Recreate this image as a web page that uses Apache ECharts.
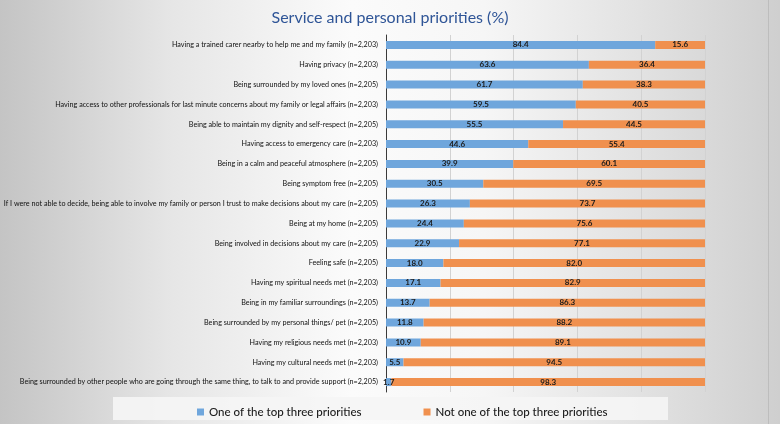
<!DOCTYPE html>
<html>
<head>
<meta charset="utf-8">
<script src="https://cdn.jsdelivr.net/npm/echarts@6/dist/echarts.min.js"></script>
<style>
  html, body { margin: 0; padding: 0; }
  body {
    position: relative;
    width: 780px;
    height: 424px;
    background: linear-gradient(to right, #c4c4c4 0%, #e6e6e6 22%, #fbfbfb 45%, #f6f6f6 62%, #e2e2e2 82%, #cfcfcf 100%);
  }
  #chart { width: 780px; height: 424px; }
  .edge { position: absolute; left: 768px; top: 0; width: 1px; height: 424px; background: #bdbdbd; }
</style>
</head>
<body>
<div id="chart"></div>
<div class="edge"></div>
<script>
const categories = [
  "Having a trained carer nearby to help me and my family (n=2,203)",
  "Having privacy (n=2,203)",
  "Being surrounded by my loved ones (n=2,205)",
  "Having access to other professionals for last minute concerns about my family or legal affairs (n=2,203)",
  "Being able to maintain my dignity and self-respect (n=2,205)",
  "Having access to emergency care (n=2,203)",
  "Being in a calm and peaceful atmosphere (n=2,205)",
  "Being symptom free (n=2,205)",
  "If I were not able to decide, being able to involve my family or person I trust to make decisions about my care (n=2,205)",
  "Being at my home (n=2,205)",
  "Being involved in decisions about my care (n=2,205)",
  "Feeling safe (n=2,205)",
  "Having my spiritual needs met (n=2,203)",
  "Being in my familiar surroundings (n=2,205)",
  "Being surrounded by my personal things/ pet (n=2,205)",
  "Having my religious needs met (n=2,203)",
  "Having my cultural needs met (n=2,203)",
  "Being surrounded by other people who are going through the same thing, to talk to and provide support (n=2,205)"
];

const topThree = [84.4, 63.6, 61.7, 59.5, 55.5, 44.6, 39.9, 30.5, 26.3, 24.4, 22.9, 18.0, 17.1, 13.7, 11.8, 10.9, 5.5, 1.7];
const notTopThree = [15.6, 36.4, 38.3, 40.5, 44.5, 55.4, 60.1, 69.5, 73.7, 75.6, 77.1, 82.0, 82.9, 86.3, 88.2, 89.1, 94.5, 98.3];

const seriesNames = ["One of the top three priorities", "Not one of the top three priorities"];

const myChart = echarts.init(document.getElementById("chart"), null, { renderer: "canvas" });

const valueLabel = {
  show: true,
  position: "inside",
  color: "#1b1b1b",
  fontSize: 8,
  fontWeight: "bold",
  fontFamily: "Lato",
  formatter: (p) => p.value.toFixed(1)
};

const option = {
  backgroundColor: "transparent",
  animation: false,
  title: {
    text: "Service and personal priorities (%)",
    left: "center",
    top: 5,
    textStyle: {
      color: "#2f5597",
      fontSize: 16,
      fontWeight: "normal",
      fontFamily: "Lato"
    }
  },
  graphic: [
    {
      type: "rect",
      left: 113,
      top: 397,
      shape: { width: 555, height: 23 },
      style: { fill: "rgba(245,245,245,0.9)" },
      z: 0
    }
  ],
  legend: {
    left: 192,
    top: 401,
    itemGap: 62,
    itemWidth: 7,
    itemHeight: 7,
    icon: "rect",
    textStyle: { fontSize: 11.5, color: "#1b1b1b", fontFamily: "Lato", fontWeight: 500 },
    data: seriesNames
  },
  grid: {
    left: 386,
    right: 75,
    top: 35,
    bottom: 32,
    containLabel: false
  },
  xAxis: {
    type: "value",
    min: 0,
    max: 100,
    interval: 20,
    axisLabel: { show: false },
    axisLine: { show: false },
    axisTick: { show: false },
    splitLine: { lineStyle: { color: "#d2d2d2", width: 1 } }
  },
  yAxis: {
    type: "category",
    data: categories,
    inverse: true,
    axisTick: { show: false },
    axisLine: { show: true, lineStyle: { color: "#3a3a3a", width: 1 } },
    axisLabel: {
      color: "#111",
      fontSize: 7.2,
      fontFamily: "Lato",
      margin: 8
    }
  },
  series: [
    {
      name: seriesNames[0],
      type: "bar",
      stack: "total",
      data: topThree,
      barWidth: 8,
      itemStyle: { color: "#6fa6dc" },
      label: valueLabel
    },
    {
      name: seriesNames[1],
      type: "bar",
      stack: "total",
      data: notTopThree,
      barWidth: 8,
      itemStyle: { color: "#f0904e" },
      label: valueLabel
    }
  ]
};

myChart.setOption(option);
</script>
</body>
</html>
